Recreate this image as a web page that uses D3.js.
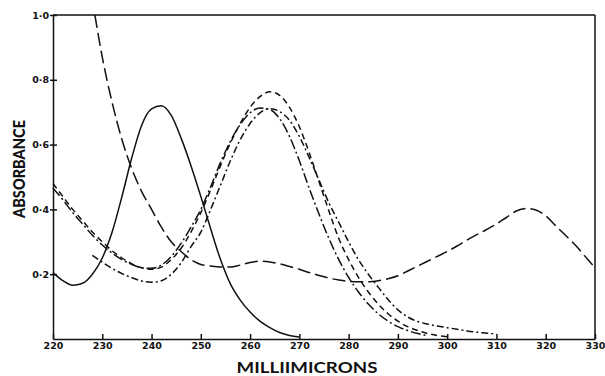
<!DOCTYPE html>
<html>
<head>
<meta charset="utf-8">
<script src="https://cdn.jsdelivr.net/npm/d3@7"></script>
<style>
  html, body { margin: 0; padding: 0; background: #fff; }
  svg { display: block; }
  .tick text { font-family: "DejaVu Sans", sans-serif; font-weight: bold; font-size: 9.5px; fill: #111; }
  .axis path, .axis line { stroke: #111; stroke-width: 1.5; }
</style>
</head>
<body>
<svg id="chart" width="605" height="376"></svg>
<script>
// Wavelengths (millimicrons) and absorbance of each spectrum
const solidNm  = [220,222,224,226,228,230,232,234,236,238,240,242,244,246,248,250,252,254,256,258,260,262,264,266,268,270];
const solidAbs = [0.205,0.18,0.166,0.172,0.2,0.25,0.33,0.44,0.56,0.66,0.71,0.72,0.69,0.62,0.535,0.44,0.34,0.245,0.17,0.12,0.083,0.055,0.035,0.02,0.011,0.006];

const longDashNm  = [228.5,230,232,234,236,238,240,242,244,246,248,250,252,254,256,258,260,262,264,266,268,270,272,274,276,278,280,282,284,286,288,290,292,294,296,298,300,302,304,306,308,310,312,314,316,318,320,322,324,326,328,330];
const longDashAbs = [1.0,0.87,0.73,0.615,0.525,0.455,0.4,0.345,0.3,0.27,0.245,0.23,0.225,0.222,0.222,0.228,0.236,0.24,0.238,0.232,0.224,0.215,0.205,0.196,0.188,0.182,0.178,0.177,0.177,0.18,0.186,0.195,0.21,0.225,0.24,0.255,0.27,0.287,0.305,0.322,0.338,0.355,0.375,0.395,0.403,0.398,0.38,0.35,0.32,0.29,0.255,0.22];

const dashNm  = [220,222,224,226,228,230,232,234,236,238,240,242,244,246,248,250,252,254,256,258,260,262,264,266,268,270,272,274,276,278,280,282,284,286,288,290,292,294,296,298,300];
const dashAbs = [0.48,0.44,0.4,0.365,0.33,0.3,0.272,0.25,0.232,0.22,0.215,0.222,0.245,0.28,0.33,0.39,0.46,0.535,0.605,0.665,0.715,0.748,0.763,0.752,0.715,0.655,0.575,0.485,0.395,0.31,0.245,0.19,0.145,0.108,0.078,0.055,0.038,0.026,0.017,0.011,0.007];

const dashDotNm  = [220,222,224,226,228,230,232,234,236,238,240,242,244,246,248,250,252,254,256,258,260,262,264,266,268,270,272,274,276,278,280,282,284,286,288,290,292,294,296];
const dashDotAbs = [0.465,0.43,0.39,0.355,0.32,0.29,0.265,0.245,0.23,0.22,0.218,0.228,0.255,0.295,0.345,0.4,0.47,0.545,0.61,0.662,0.698,0.713,0.708,0.68,0.625,0.55,0.465,0.385,0.31,0.245,0.19,0.145,0.108,0.078,0.055,0.038,0.026,0.017,0.01];

const chainNm  = [228,230,232,234,236,238,240,242,244,246,248,250,252,254,256,258,260,262,264,266,268,270,272,274,276,278,280,282,284,286,288,290,292,294,296,298,300,302,304,306,308,310];
const chainAbs = [0.258,0.237,0.218,0.202,0.189,0.179,0.175,0.18,0.2,0.235,0.285,0.33,0.4,0.475,0.55,0.615,0.665,0.698,0.711,0.702,0.675,0.625,0.56,0.49,0.42,0.36,0.3,0.245,0.2,0.16,0.122,0.09,0.068,0.054,0.046,0.04,0.035,0.03,0.025,0.021,0.018,0.015];

const xTicks = [220,230,240,250,260,270,280,290,300,310,320,330];
const yTicks = [0.2,0.4,0.6,0.8,1.0];

const series = [
  { nm: solidNm,    abs: solidAbs,    dash: null },
  { nm: longDashNm, abs: longDashAbs, dash: "13,5" },
  { nm: dashNm,     abs: dashAbs,     dash: "6,4" },
  { nm: dashDotNm,  abs: dashDotAbs,  dash: "10,3,2,3" },
  { nm: chainNm,    abs: chainAbs,    dash: "7,3,2,3" }
];

const svg = d3.select("#chart");
const x = d3.scaleLinear().domain([220, 330]).range([53, 595]);
const y = d3.scaleLinear().domain([0, 1]).range([339, 15]);

// Frame: top and right edges
svg.append("line").attr("x1", x(220)).attr("x2", x(330)).attr("y1", y(1)).attr("y2", y(1))
  .attr("stroke", "#111").attr("stroke-width", 1.5);
svg.append("line").attr("x1", x(330)).attr("x2", x(330)).attr("y1", y(1)).attr("y2", y(0))
  .attr("stroke", "#111").attr("stroke-width", 1.5);

// Bottom axis, ticks pointing inward
const xAxis = svg.append("g").attr("class", "axis")
  .attr("transform", `translate(0,${y(0)})`)
  .call(d3.axisBottom(x).tickValues(xTicks).tickSize(-5).tickSizeOuter(0).tickPadding(3).tickFormat(d3.format("d")));
xAxis.selectAll(".tick text").attr("dy", "0.72em");

// Left axis, ticks crossing the line
const yAxis = svg.append("g").attr("class", "axis")
  .attr("transform", `translate(${x(220)},0)`)
  .call(d3.axisLeft(y).tickValues(yTicks).tickSize(3).tickSizeOuter(0).tickPadding(1)
    .tickFormat(d => d.toFixed(1).replace(".", "·")));
yAxis.selectAll(".tick line").attr("x2", 4).attr("x1", -3);

// Spectra
const line = d3.line().x(d => x(d[0])).y(d => y(d[1])).curve(d3.curveMonotoneX);
series.forEach(s => {
  const pts = s.nm.map((n, i) => [n, s.abs[i]]);
  svg.append("path").datum(pts)
    .attr("d", line)
    .attr("fill", "none")
    .attr("stroke", "#111")
    .attr("stroke-width", 1.5)
    .attr("stroke-dasharray", s.dash);
});

// Axis titles
svg.append("text").text("MILLIIMICRONS")
  .attr("x", 307).attr("y", 373)
  .attr("text-anchor", "middle")
  .attr("textLength", 141).attr("lengthAdjust", "spacingAndGlyphs")
  .style("font-family", "Lato, sans-serif").style("font-weight", "bold").style("font-size", "16px").style("fill", "#111");

svg.append("text").text("ABSORBANCE")
  .attr("transform", "translate(25,169) rotate(-90)")
  .attr("text-anchor", "middle")
  .attr("textLength", 98).attr("lengthAdjust", "spacingAndGlyphs")
  .style("font-family", "Lato, sans-serif").style("font-weight", "900").style("font-size", "17px").style("fill", "#111");
</script>
</body>
</html>
